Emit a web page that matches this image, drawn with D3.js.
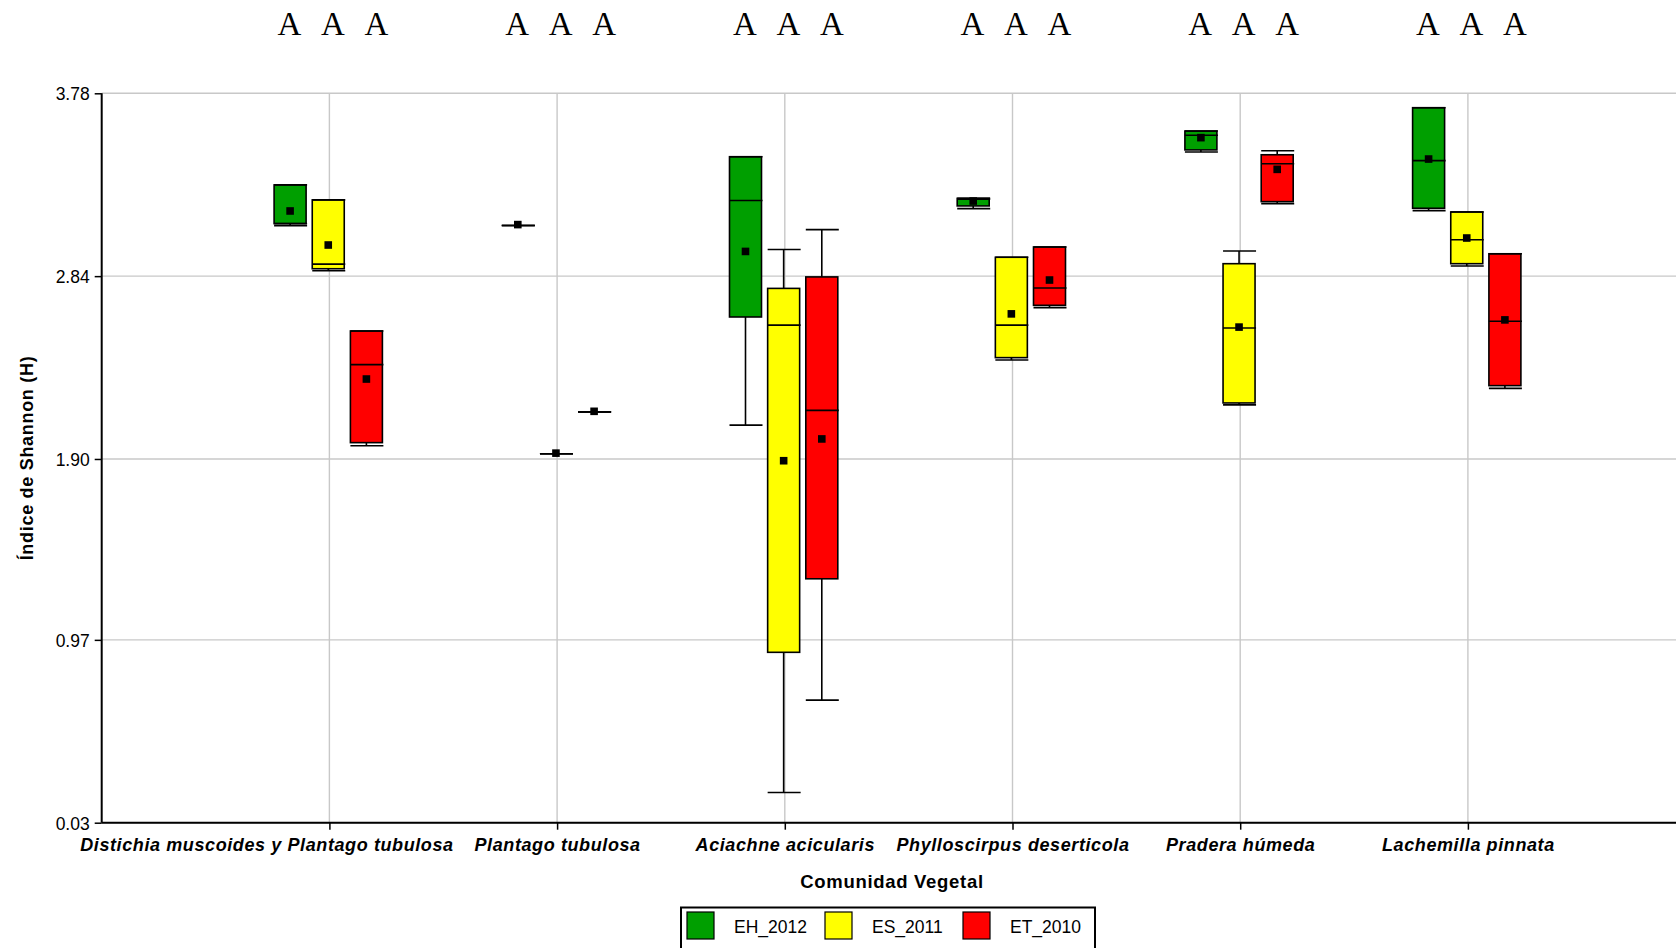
<!DOCTYPE html>
<html><head><meta charset="utf-8">
<script src="https://cdn.jsdelivr.net/npm/d3@7"></script>
<style>
html,body{margin:0;padding:0;background:#fff;}
svg{display:block;}
text{font-family:"Liberation Sans",Arial,sans-serif;fill:#000;}
</style></head>
<body>
<svg id="chart" width="1676" height="948"></svg>
<script>
const categories = ["Distichia muscoides y Plantago tubulosa","Plantago tubulosa","Aciachne acicularis","Phylloscirpus deserticola","Pradera húmeda","Lachemilla pinnata"];
const seriesNames = ["EH_2012","ES_2011","ET_2010"];
const seriesColors = ["#009f00","#ffff00","#ff0000"];
const yTicks = [0.03, 0.97, 1.90, 2.84, 3.78];

// EH_2012
const ehLow    = [3.099, 3.100, 2.074, 3.187, 3.478, 3.177];
const ehQ1     = [3.110, 3.100, 2.630, 3.201, 3.489, 3.189];
const ehMedian = [3.110, 3.100, 3.229, 3.235, 3.564, 3.434];
const ehQ3     = [3.309, 3.100, 3.454, 3.240, 3.586, 3.706];
const ehHigh   = [3.309, 3.100, 3.454, 3.240, 3.586, 3.706];
const ehMean   = [3.175, 3.105, 2.967, 3.226, 3.552, 3.442];
// ES_2011
const esLow    = [2.868, 1.927, 0.185, 2.409, 2.178, 2.892];
const esQ1     = [2.878, 1.927, 0.906, 2.421, 2.188, 2.904];
const esMedian = [2.902, 1.927, 2.588, 2.588, 2.573, 3.027];
const esQ3     = [3.232, 1.927, 2.777, 2.937, 2.904, 3.170];
const esHigh   = [3.232, 1.927, 2.977, 2.937, 2.969, 3.170];
const esMean   = [3.000, 1.930, 1.891, 2.646, 2.578, 3.036];
// ET_2010
const etLow    = [1.968, 2.142, 0.660, 2.678, 3.213, 2.263];
const etQ1     = [1.984, 2.142, 1.284, 2.690, 3.223, 2.277];
const etMedian = [2.385, 2.142, 2.150, 2.779, 3.418, 2.608];
const etQ3     = [2.558, 2.142, 2.836, 2.990, 3.464, 2.955];
const etHigh   = [2.558, 2.142, 3.079, 2.990, 3.485, 2.955];
const etMean   = [2.311, 2.145, 2.003, 2.820, 3.389, 2.615];

// significance letters per category (EH, ES, ET)
const letters = [["A","A","A"],["A","A","A"],["A","A","A"],["A","A","A"],["A","A","A"],["A","A","A"]];

(function(){
const seriesData = [
  {name:seriesNames[0], low:ehLow, q1:ehQ1, med:ehMedian, q3:ehQ3, high:ehHigh, mean:ehMean},
  {name:seriesNames[1], low:esLow, q1:esQ1, med:esMedian, q3:esQ3, high:esHigh, mean:esMean},
  {name:seriesNames[2], low:etLow, q1:etQ1, med:etMedian, q3:etQ3, high:etHigh, mean:etMean}
];

const svg = d3.select("#chart");
const pLeft = 101.7, pTop = 93.3, pBottom = 822.7, pRight = 1676;
const x = d3.scalePoint().domain(categories).range([pLeft, 1695.6]).padding(1);
const xs = d3.scalePoint().domain(seriesNames).range([-39.3, 37]);
const xl = d3.scalePoint().domain(seriesNames).range([-40, 47]);
const y = d3.scaleLinear().domain([0.03, 3.78]).range([pBottom, pTop]);
const color = d3.scaleOrdinal().domain(seriesNames).range(seriesColors);
const boxW = 32;

// grid
const grid = svg.append("g").attr("stroke","#c8c8c8").attr("stroke-width",1.4);
grid.selectAll("line.h").data(yTicks).join("line").attr("class","h")
  .attr("x1",pLeft).attr("x2",pRight).attr("y1",d=>y(d)).attr("y2",d=>y(d));
grid.selectAll("line.v").data(categories).join("line").attr("class","v")
  .attr("x1",d=>x(d)).attr("x2",d=>x(d)).attr("y1",pTop).attr("y2",pBottom);

// boxes
const items = [];
seriesData.forEach(s => categories.forEach((c,i) => items.push({
  s:s.name, c, low:s.low[i], q1:s.q1[i], med:s.med[i], q3:s.q3[i], high:s.high[i], mean:s.mean[i]
})));
const g = svg.append("g");
const cx = d => x(d.c) + xs(d.s);
items.forEach(d => {
  const gx = cx(d);
  const gg = g.append("g").attr("stroke","#000").attr("stroke-width",1.6);
  if (d.high > d.q3) gg.append("line").attr("x1",gx).attr("x2",gx).attr("y1",y(d.high)).attr("y2",y(d.q3));
  if (d.low < d.q1) gg.append("line").attr("x1",gx).attr("x2",gx).attr("y1",y(d.q1)).attr("y2",y(d.low));
  if (d.q3 > d.q1) {
    gg.append("rect").attr("x",gx-boxW/2).attr("y",y(d.q3)).attr("width",boxW)
      .attr("height",y(d.q1)-y(d.q3)).attr("fill",color(d.s));
  }
  gg.append("line").attr("x1",gx-boxW/2).attr("x2",gx+boxW/2+1).attr("y1",y(d.med)).attr("y2",y(d.med));
  gg.append("line").attr("x1",gx-boxW/2).attr("x2",gx+boxW/2+1).attr("y1",y(d.high)).attr("y2",y(d.high));
  gg.append("line").attr("x1",gx-boxW/2).attr("x2",gx+boxW/2+1).attr("y1",y(d.low)).attr("y2",y(d.low));
  g.append("rect").attr("x",gx-3.8).attr("y",y(d.mean)-3.8).attr("width",7.6).attr("height",7.6).attr("fill","#000");
});

// axes
const yAxis = d3.axisLeft(y).tickValues(yTicks).tickFormat(d3.format(".2f")).tickSize(7).tickPadding(5);
const ya = svg.append("g").attr("transform",`translate(${pLeft},0)`).call(yAxis);
ya.select(".domain").attr("stroke","#000").attr("stroke-width",2).attr("d",`M0,${pTop}V${pBottom}`);
ya.selectAll(".tick line").attr("stroke","#000").attr("stroke-width",1.5);
ya.selectAll(".tick text").attr("font-size",17.5).attr("font-family","Liberation Sans").attr("dy","0.36em");

const xAxis = d3.axisBottom(x).tickSize(7).tickPadding(8);
const xa = svg.append("g").attr("transform",`translate(0,${pBottom})`).call(xAxis);
xa.select(".domain").attr("stroke","#000").attr("stroke-width",2).attr("d",`M${pLeft},0H${pRight}`);
xa.selectAll(".tick line").attr("stroke","#000").attr("stroke-width",1.5);
xa.selectAll(".tick text").attr("font-size",18).attr("font-weight","bold").attr("font-style","italic")
  .attr("font-family","Liberation Sans").attr("letter-spacing","0.6px").attr("y",28.5).attr("dy",0);
xa.selectAll(".tick text").each(function(d){
  const w = this.getComputedTextLength();
  if (w > x.step()*1.2) {
    d3.select(this).attr("text-anchor","start").attr("x", (pLeft - 22) - x(d));
  }
});

// axis titles
svg.append("text").attr("transform",`translate(33,${(pTop+pBottom)/2}) rotate(-90)`)
  .attr("text-anchor","middle").attr("font-size",18).attr("font-weight","bold")
  .attr("letter-spacing","0.7px").text("Índice de Shannon (H)");
svg.append("text").attr("x",892).attr("y",888).attr("text-anchor","middle")
  .attr("font-size",18.5).attr("font-weight","bold").attr("letter-spacing","0.7px").text("Comunidad Vegetal");

// letters
const lg = svg.append("g");
categories.forEach((c,i) => seriesNames.forEach((s,j) => {
  lg.append("text").attr("x",x(c)+xl(s)).attr("y",35).attr("text-anchor","middle")
    .style("font-family","'Liberation Serif',serif").attr("font-size",33).text(letters[i][j]);
}));

// legend
const leg = svg.append("g");
leg.append("rect").attr("x",681).attr("y",907.5).attr("width",414).attr("height",60)
  .attr("fill","#fff").attr("stroke","#000").attr("stroke-width",2);
const legX = d3.scalePoint().domain(seriesNames).range([687, 963]);
seriesNames.forEach(s => {
  leg.append("rect").attr("x",legX(s)).attr("y",912).attr("width",27).attr("height",27)
    .attr("fill",color(s)).attr("stroke","#000").attr("stroke-width",1.2);
  leg.append("text").attr("x",legX(s)+47).attr("y",933).attr("font-size",17.5).text(s);
});
})();
</script>
</body></html>
